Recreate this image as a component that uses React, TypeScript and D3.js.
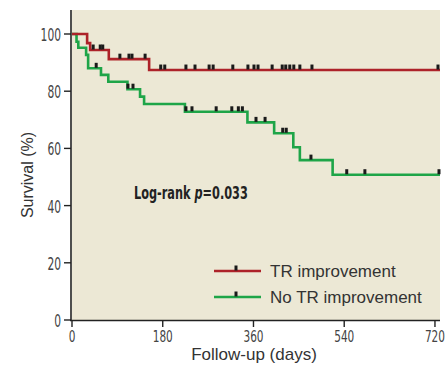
import React from "react";
import * as d3 from "d3";

const xTicks = [0, 180, 360, 540, 720];
const yTicks = [0, 20, 40, 60, 80, 100];

const trStepDays = [0, 30, 36, 73, 153];
const trStepSurv = [100, 96.8, 94.4, 91.2, 87.4];
const trCensorDays = [42, 56, 61, 95, 113, 119, 145, 176, 184, 226, 244, 272, 280, 319, 349, 361, 369, 397, 417, 424, 432, 440, 452, 476, 726];

const noStepDays = [0, 9, 12.5, 28, 32, 57.5, 72, 110, 135, 143, 224, 348, 401, 439, 452, 517];
const noStepSurv = [100, 97.3, 95.2, 92.7, 88.0, 85.7, 83.3, 80.7, 78.1, 75.5, 72.8, 69.1, 65.3, 60.4, 55.9, 50.8];
const noCensorDays = [48, 111, 121, 226, 238, 286, 317, 330, 338, 365, 383, 418, 425, 474, 545, 581, 728];

const endDay = 730;
const RED = "#AD2229";
const GREEN = "#1EA548";
const BG = "#ECE8D5";
const COND = "'DejaVu Sans Condensed', 'Liberation Sans Narrow', sans-serif";
const SANS = "'Liberation Sans', Arial, sans-serif";

function survAt(days: number[], surv: number[], t: number) {
  let v = surv[0];
  for (let i = 0; i < days.length; i++) if (days[i] <= t) v = surv[i];
  return v;
}

export default function App() {
  const W = 447, H = 367;
  const x = d3.scaleLinear().domain([0, endDay]).range([72, 440]);
  const y = d3.scaleLinear().domain([0, 100]).range([320, 34]);
  const line = d3
    .line<[number, number]>()
    .x((d) => x(d[0]))
    .y((d) => y(d[1]))
    .curve(d3.curveStepAfter);

  const mk = (days: number[], surv: number[]) => {
    const pts: [number, number][] = days.map((d, i) => [d, surv[i]]);
    pts.push([endDay, surv[surv.length - 1]]);
    return line(pts) || "";
  };

  const censor = (days: number[], sd: number[], ss: number[], key: string) =>
    days.map((d, i) => (
      <rect key={key + i} x={x(d) - 1.5} y={y(survAt(sd, ss, d)) - 5.5} width={3} height={5} fill="#1a1a1a" />
    ));

  return (
    <svg width={W} height={H} style={{ position: "absolute", left: 0, top: 0, background: "#fff" }}>
      <rect x={72} y={10} width={368} height={310} fill={BG} />
      <path d={mk(noStepDays, noStepSurv)} fill="none" stroke={GREEN} strokeWidth={2.6} />
      <path d={mk(trStepDays, trStepSurv)} fill="none" stroke={RED} strokeWidth={2.6} />
      {censor(noCensorDays, noStepDays, noStepSurv, "g")}
      {censor(trCensorDays, trStepDays, trStepSurv, "r")}

      {/* axes */}
      <line x1={71} y1={10} x2={71} y2={321} stroke="#222" strokeWidth={1.6} />
      <line x1={70} y1={320.5} x2={440} y2={320.5} stroke="#222" strokeWidth={1.6} />
      {yTicks.map((t) => (
        <g key={"y" + t}>
          <line x1={64} x2={71} y1={y(t)} y2={y(t)} stroke="#222" strokeWidth={1.4} />
          <text
            transform={`translate(61,${y(t) + 7}) scale(0.7,1)`}
            textAnchor="end"
            fontFamily={COND}
            fontSize={17}
            fill="#444"
          >
            {t}
          </text>
        </g>
      ))}
      {xTicks.map((t) => (
        <g key={"x" + t}>
          <line x1={x(t)} x2={x(t)} y1={320} y2={327} stroke="#222" strokeWidth={1.4} />
          <text
            transform={`translate(${x(t)},341.5) scale(0.78,1)`}
            textAnchor="middle"
            fontFamily={COND}
            fontSize={15}
            fill="#444"
          >
            {t}
          </text>
        </g>
      ))}

      <text x={254} y={360} textAnchor="middle" fontFamily={SANS} fontSize={17} fill="#333">
        Follow-up (days)
      </text>
      <text transform="translate(33,175) rotate(-90)" textAnchor="middle" fontFamily={SANS} fontSize={16} fill="#333">
        Survival (%)
      </text>

      <text transform="translate(134,199) scale(0.74,1)" fontFamily={COND} fontSize={17} fontWeight="bold" fill="#222">
        Log-rank <tspan fontStyle="italic">p</tspan>=0.033
      </text>

      {/* legend */}
      <line x1={214} x2={261} y1={271} y2={271} stroke={RED} strokeWidth={2.6} />
      <rect x={234.5} y={265.5} width={3} height={5} fill="#1a1a1a" />
      <text x={270} y={277} fontFamily={SANS} fontSize={17} fill="#333">TR improvement</text>
      <line x1={214} x2={261} y1={297} y2={297} stroke={GREEN} strokeWidth={2.6} />
      <rect x={234.5} y={291.5} width={3} height={5} fill="#1a1a1a" />
      <text x={270} y={303} fontFamily={SANS} fontSize={17} fill="#333">No TR improvement</text>
    </svg>
  );
}
